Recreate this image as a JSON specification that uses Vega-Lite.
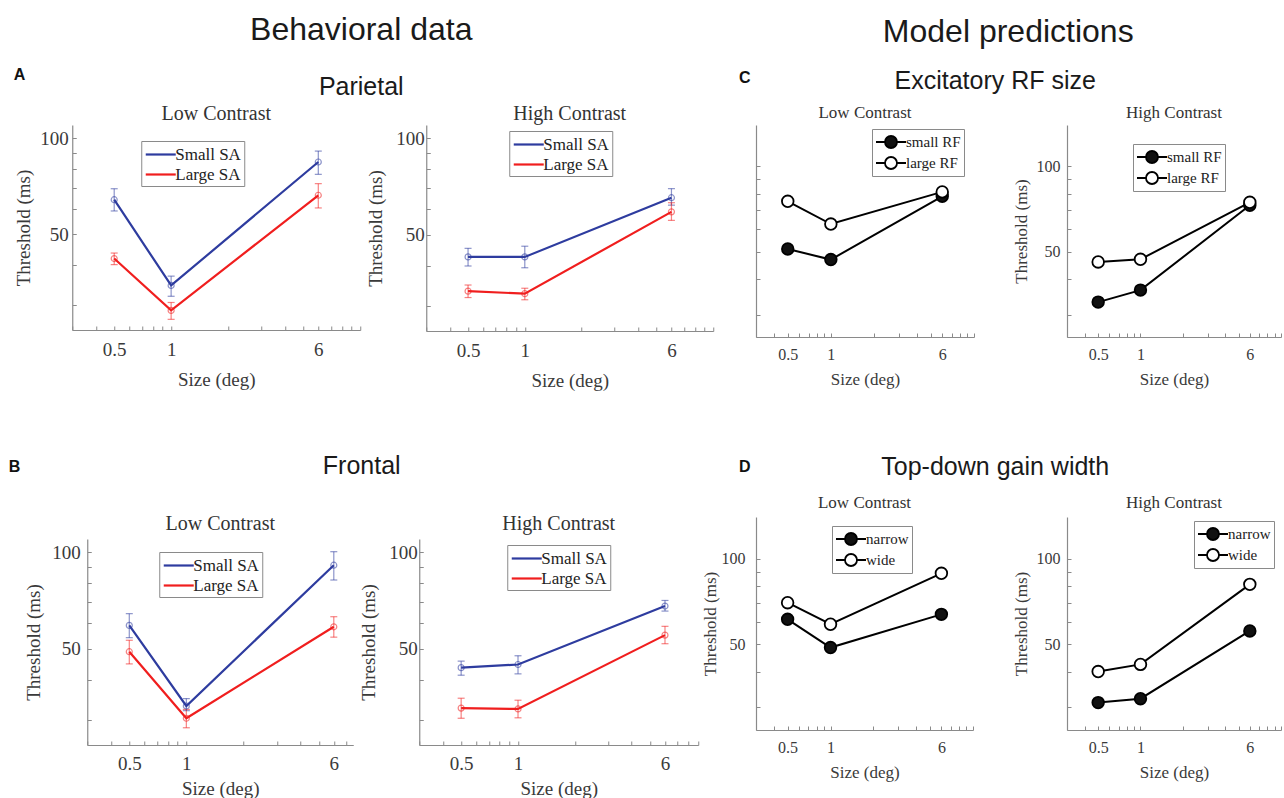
{
  "$schema": "https://vega.github.io/schema/vega-lite/v6.json",
  "padding": {"left": 8, "top": 14, "right": 0, "bottom": 0},
  "background": "white",
  "datasets": {
    "beh": [
      {"panel": "A_low", "series": "Small SA", "size": 0.5, "thr": 64.1, "lo": 59.1, "hi": 69.4},
      {"panel": "A_low", "series": "Small SA", "size": 1, "thr": 34.5, "lo": 31.9, "hi": 36.9},
      {"panel": "A_low", "series": "Small SA", "size": 6, "thr": 84.2, "lo": 77.0, "hi": 91.1},
      {"panel": "A_low", "series": "Large SA", "size": 0.5, "thr": 41.9, "lo": 40.1, "hi": 43.6},
      {"panel": "A_low", "series": "Large SA", "size": 1, "thr": 28.8, "lo": 27.0, "hi": 30.5},
      {"panel": "A_low", "series": "Large SA", "size": 6, "thr": 66.2, "lo": 60.4, "hi": 72.0},
      {"panel": "A_high", "series": "Small SA", "size": 0.5, "thr": 42.6, "lo": 39.9, "hi": 45.3},
      {"panel": "A_high", "series": "Small SA", "size": 1, "thr": 42.6, "lo": 39.4, "hi": 46.0},
      {"panel": "A_high", "series": "Small SA", "size": 6, "thr": 65.2, "lo": 61.8, "hi": 69.6},
      {"panel": "A_high", "series": "Large SA", "size": 0.5, "thr": 33.3, "lo": 31.8, "hi": 34.8},
      {"panel": "A_high", "series": "Large SA", "size": 1, "thr": 32.7, "lo": 31.3, "hi": 34.0},
      {"panel": "A_high", "series": "Large SA", "size": 6, "thr": 58.9, "lo": 55.4, "hi": 62.9},
      {"panel": "B_low", "series": "Small SA", "size": 0.5, "thr": 59.1, "lo": 54.1, "hi": 64.3},
      {"panel": "B_low", "series": "Small SA", "size": 1, "thr": 33.1, "lo": 32.0, "hi": 34.9},
      {"panel": "B_low", "series": "Small SA", "size": 6, "thr": 91.1, "lo": 81.9, "hi": 100.4},
      {"panel": "B_low", "series": "Large SA", "size": 0.5, "thr": 48.9, "lo": 44.8, "hi": 53.1},
      {"panel": "B_low", "series": "Large SA", "size": 1, "thr": 30.3, "lo": 28.3, "hi": 32.3},
      {"panel": "B_low", "series": "Large SA", "size": 6, "thr": 58.5, "lo": 54.3, "hi": 62.9},
      {"panel": "B_high", "series": "Small SA", "size": 0.5, "thr": 43.6, "lo": 41.3, "hi": 45.7},
      {"panel": "B_high", "series": "Small SA", "size": 1, "thr": 44.6, "lo": 41.7, "hi": 47.5},
      {"panel": "B_high", "series": "Small SA", "size": 6, "thr": 67.9, "lo": 65.5, "hi": 70.7},
      {"panel": "B_high", "series": "Large SA", "size": 0.5, "thr": 32.6, "lo": 30.3, "hi": 35.0},
      {"panel": "B_high", "series": "Large SA", "size": 1, "thr": 32.4, "lo": 30.4, "hi": 34.5},
      {"panel": "B_high", "series": "Large SA", "size": 6, "thr": 55.1, "lo": 51.8, "hi": 58.7}
    ],
    "mod": [
      {"panel": "C_low", "series": "small RF", "size": 0.5, "thr": 51.1},
      {"panel": "C_low", "series": "small RF", "size": 1, "thr": 46.9},
      {"panel": "C_low", "series": "small RF", "size": 6, "thr": 78.4},
      {"panel": "C_low", "series": "large RF", "size": 0.5, "thr": 75.3},
      {"panel": "C_low", "series": "large RF", "size": 1, "thr": 62.6},
      {"panel": "C_low", "series": "large RF", "size": 6, "thr": 81.3},
      {"panel": "C_high", "series": "small RF", "size": 0.5, "thr": 33.2},
      {"panel": "C_high", "series": "small RF", "size": 1, "thr": 36.6},
      {"panel": "C_high", "series": "small RF", "size": 6, "thr": 72.9},
      {"panel": "C_high", "series": "large RF", "size": 0.5, "thr": 46.0},
      {"panel": "C_high", "series": "large RF", "size": 1, "thr": 47.0},
      {"panel": "C_high", "series": "large RF", "size": 6, "thr": 74.7},
      {"panel": "D_low", "series": "narrow", "size": 0.5, "thr": 61.2},
      {"panel": "D_low", "series": "narrow", "size": 1, "thr": 48.7},
      {"panel": "D_low", "series": "narrow", "size": 6, "thr": 63.7},
      {"panel": "D_low", "series": "wide", "size": 0.5, "thr": 70.0},
      {"panel": "D_low", "series": "wide", "size": 1, "thr": 58.8},
      {"panel": "D_low", "series": "wide", "size": 6, "thr": 88.8},
      {"panel": "D_high", "series": "narrow", "size": 0.5, "thr": 31.2},
      {"panel": "D_high", "series": "narrow", "size": 1, "thr": 32.2},
      {"panel": "D_high", "series": "narrow", "size": 6, "thr": 55.7},
      {"panel": "D_high", "series": "wide", "size": 0.5, "thr": 40.1},
      {"panel": "D_high", "series": "wide", "size": 1, "thr": 42.5},
      {"panel": "D_high", "series": "wide", "size": 6, "thr": 81.2}
    ]
  },
  "config": {
    "view": {"stroke": null},
    "axis": {"domainColor": "#8a8a8a", "tickColor": "#8a8a8a", "labelColor": "#3a3a3a", "titleColor": "#3a3a3a", "labelFont": "Liberation Serif", "titleFont": "Liberation Serif", "titleFontWeight": "normal", "grid": false, "domainWidth": 1.2, "tickWidth": 1},
    "legend": {"labelFont": "Liberation Serif", "labelColor": "#222222", "strokeColor": "#8a8a8a", "fillColor": "white"}
  },
  "resolve": {"scale": {"color": "independent", "fill": "independent"}, "legend": {"color": "independent", "fill": "independent"}},
  "spacing": -13,
  "hconcat": [
    {
      "title": {"text": "Behavioral data", "font": "Liberation Sans", "fontSize": 32, "fontWeight": "normal", "color": "#1a1a1a", "anchor": "middle", "frame": "bounds", "offset": 20, "dx": 0},
      "spacing": 64,
      "center": true,
      "resolve": {"scale": {"color": "independent", "fill": "independent"}, "legend": {"color": "independent", "fill": "independent"}},
      "vconcat": [
        {
          "title": {"text": "A", "anchor": "start", "frame": "bounds", "font": "Liberation Sans", "fontSize": 16, "fontWeight": "bold", "color": "#111111", "dx": -1, "offset": -8},
          "resolve": {"scale": {"color": "independent", "fill": "independent"}, "legend": {"color": "independent", "fill": "independent"}},
          "vconcat": [
            {
              "title": {"text": "Parietal", "font": "Liberation Sans", "fontSize": 25, "fontWeight": "normal", "color": "#1a1a1a", "anchor": "middle", "frame": "bounds", "offset": 4, "dx": -3},
              "bounds": "flush",
              "spacing": 66,
              "resolve": {"scale": {"color": "independent", "fill": "independent"}, "legend": {"color": "independent", "fill": "independent"}},
              "hconcat": [
                {
                  "width": 288, "height": 205,
                  "title": {"text": "Low Contrast", "font": "Liberation Serif", "fontSize": 20, "fontWeight": "normal", "color": "#333333", "offset": 1},
                  "data": {"name": "beh"},
                  "transform": [{"filter": "datum.panel === 'A_low'"}],
                  "encoding": {
                    "x": {"field": "size", "type": "quantitative", "scale": {"type": "log", "domain": [0.3, 10], "nice": false},
                      "axis": {"title": "Size (deg)", "values": [0.3, 0.4, 0.5, 0.6, 0.7, 0.8, 0.9, 1, 2, 3, 4, 5, 6, 7, 8, 9, 10], "labelExpr": "datum.value == 0.5 ? '0.5' : datum.value == 1 ? '1' : datum.value == 6 ? '6' : ''", "tickSize": -4, "labelPadding": 14, "titlePadding": 11, "labelFontSize": 19, "titleFontSize": 19, "labelFlush": false}},
                    "color": {"field": "series", "type": "nominal", "scale": {"domain": ["Small SA", "Large SA"], "range": ["#2e3c9f", "#f01e1e"]},
                      "legend": {"orient": "none", "legendX": 69, "legendY": 16, "title": null, "symbolType": "M-1.667,0L1.667,0", "symbolSize": 324, "symbolStrokeWidth": 2.2, "symbolOpacity": 1, "symbolOffset": 6, "labelOffset": 4, "labelFontSize": 17, "padding": 3, "rowPadding": 1}}
                  },
                  "layer": [
                    {"mark": {"type": "errorbar", "ticks": {"size": 7}, "thickness": 1.2, "opacity": 0.55},
                      "encoding": {"y": {"field": "lo", "type": "quantitative", "scale": {"type": "log", "domain": [25, 110], "nice": false}, "axis": {"title": "Threshold (ms)", "values": [30, 40, 50, 60, 70, 80, 90, 100], "labelExpr": "datum.value == 50 ? '50' : datum.value == 100 ? '100' : ''", "tickSize": -4, "labelPadding": 8, "titlePadding": 6, "labelFontSize": 19, "titleFontSize": 19}}, "y2": {"field": "hi"}}},
                    {"mark": {"type": "line", "strokeWidth": 2.2},
                      "encoding": {"y": {"field": "thr", "type": "quantitative", "scale": {"type": "log", "domain": [25, 110], "nice": false}, "axis": {"title": "Threshold (ms)", "values": [30, 40, 50, 60, 70, 80, 90, 100], "labelExpr": "datum.value == 50 ? '50' : datum.value == 100 ? '100' : ''", "tickSize": -4, "labelPadding": 8, "titlePadding": 6, "labelFontSize": 19, "titleFontSize": 19}}}},
                    {"mark": {"type": "point", "shape": "circle", "filled": false, "size": 36, "strokeWidth": 1.2, "opacity": 0.55},
                      "encoding": {"y": {"field": "thr", "type": "quantitative", "scale": {"type": "log", "domain": [25, 110], "nice": false}, "axis": {"title": "Threshold (ms)", "values": [30, 40, 50, 60, 70, 80, 90, 100], "labelExpr": "datum.value == 50 ? '50' : datum.value == 100 ? '100' : ''", "tickSize": -4, "labelPadding": 8, "titlePadding": 6, "labelFontSize": 19, "titleFontSize": 19}}}}
                  ]
                },
                {
                  "width": 287, "height": 206,
                  "title": {"text": "High Contrast", "font": "Liberation Serif", "fontSize": 20, "fontWeight": "normal", "color": "#333333", "offset": 1},
                  "data": {"name": "beh"},
                  "transform": [{"filter": "datum.panel === 'A_high'"}],
                  "encoding": {
                    "x": {"field": "size", "type": "quantitative", "scale": {"type": "log", "domain": [0.3, 10], "nice": false},
                      "axis": {"title": "Size (deg)", "values": [0.3, 0.4, 0.5, 0.6, 0.7, 0.8, 0.9, 1, 2, 3, 4, 5, 6, 7, 8, 9, 10], "labelExpr": "datum.value == 0.5 ? '0.5' : datum.value == 1 ? '1' : datum.value == 6 ? '6' : ''", "tickSize": -4, "labelPadding": 14, "titlePadding": 11, "labelFontSize": 19, "titleFontSize": 19, "labelFlush": false}},
                    "color": {"field": "series", "type": "nominal", "scale": {"domain": ["Small SA", "Large SA"], "range": ["#2e3c9f", "#f01e1e"]},
                      "legend": {"orient": "none", "legendX": 83, "legendY": 6, "title": null, "symbolType": "M-1.667,0L1.667,0", "symbolSize": 324, "symbolStrokeWidth": 2.2, "symbolOpacity": 1, "symbolOffset": 6, "labelOffset": 4, "labelFontSize": 17, "padding": 3, "rowPadding": 1}}
                  },
                  "layer": [
                    {"mark": {"type": "errorbar", "ticks": {"size": 7}, "thickness": 1.2, "opacity": 0.55},
                      "encoding": {"y": {"field": "lo", "type": "quantitative", "scale": {"type": "log", "domain": [25, 110], "nice": false}, "axis": {"title": "Threshold (ms)", "values": [30, 40, 50, 60, 70, 80, 90, 100], "labelExpr": "datum.value == 50 ? '50' : datum.value == 100 ? '100' : ''", "tickSize": -4, "labelPadding": 6, "titlePadding": 10, "labelFontSize": 19, "titleFontSize": 19}}, "y2": {"field": "hi"}}},
                    {"mark": {"type": "line", "strokeWidth": 2.2},
                      "encoding": {"y": {"field": "thr", "type": "quantitative", "scale": {"type": "log", "domain": [25, 110], "nice": false}, "axis": {"title": "Threshold (ms)", "values": [30, 40, 50, 60, 70, 80, 90, 100], "labelExpr": "datum.value == 50 ? '50' : datum.value == 100 ? '100' : ''", "tickSize": -4, "labelPadding": 6, "titlePadding": 10, "labelFontSize": 19, "titleFontSize": 19}}}},
                    {"mark": {"type": "point", "shape": "circle", "filled": false, "size": 36, "strokeWidth": 1.2, "opacity": 0.55},
                      "encoding": {"y": {"field": "thr", "type": "quantitative", "scale": {"type": "log", "domain": [25, 110], "nice": false}, "axis": {"title": "Threshold (ms)", "values": [30, 40, 50, 60, 70, 80, 90, 100], "labelExpr": "datum.value == 50 ? '50' : datum.value == 100 ? '100' : ''", "tickSize": -4, "labelPadding": 6, "titlePadding": 10, "labelFontSize": 19, "titleFontSize": 19}}}}
                  ]
                }
              ]
            }
          ]
        },
        {
          "title": {"text": "B", "anchor": "start", "frame": "bounds", "font": "Liberation Sans", "fontSize": 16, "fontWeight": "bold", "color": "#111111", "dx": -16, "offset": -21},
          "resolve": {"scale": {"color": "independent", "fill": "independent"}, "legend": {"color": "independent", "fill": "independent"}},
          "vconcat": [
            {
              "title": {"text": "Frontal", "font": "Liberation Sans", "fontSize": 25, "fontWeight": "normal", "color": "#1a1a1a", "anchor": "middle", "frame": "bounds", "offset": 35},
              "bounds": "flush",
              "spacing": 66,
              "resolve": {"scale": {"color": "independent", "fill": "independent"}, "legend": {"color": "independent", "fill": "independent"}},
              "hconcat": [
                {
                  "width": 266, "height": 206,
                  "title": {"text": "Low Contrast", "font": "Liberation Serif", "fontSize": 20, "fontWeight": "normal", "color": "#333333", "offset": 5},
                  "data": {"name": "beh"},
                  "transform": [{"filter": "datum.panel === 'B_low'"}],
                  "encoding": {
                    "x": {"field": "size", "type": "quantitative", "scale": {"type": "log", "domain": [0.3, 7.6], "nice": false},
                      "axis": {"title": "Size (deg)", "values": [0.3, 0.4, 0.5, 0.6, 0.7, 0.8, 0.9, 1, 2, 3, 4, 5, 6, 7], "labelExpr": "datum.value == 0.5 ? '0.5' : datum.value == 1 ? '1' : datum.value == 6 ? '6' : ''", "tickSize": -4, "labelPadding": 13, "titlePadding": 6, "labelFontSize": 19, "titleFontSize": 19, "labelFlush": false}},
                    "color": {"field": "series", "type": "nominal", "scale": {"domain": ["Small SA", "Large SA"], "range": ["#2e3c9f", "#f01e1e"]},
                      "legend": {"orient": "none", "legendX": 72, "legendY": 13, "title": null, "symbolType": "M-1.667,0L1.667,0", "symbolSize": 324, "symbolStrokeWidth": 2.2, "symbolOpacity": 1, "symbolOffset": 6, "labelOffset": 4, "labelFontSize": 17, "padding": 3, "rowPadding": 1}}
                  },
                  "layer": [
                    {"mark": {"type": "errorbar", "ticks": {"size": 7}, "thickness": 1.2, "opacity": 0.55},
                      "encoding": {"y": {"field": "lo", "type": "quantitative", "scale": {"type": "log", "domain": [25, 110], "nice": false}, "axis": {"title": "Threshold (ms)", "values": [30, 40, 50, 60, 70, 80, 90, 100], "labelExpr": "datum.value == 50 ? '50' : datum.value == 100 ? '100' : ''", "tickSize": -4, "labelPadding": 11, "titlePadding": 8, "labelFontSize": 19, "titleFontSize": 19}}, "y2": {"field": "hi"}}},
                    {"mark": {"type": "line", "strokeWidth": 2.2},
                      "encoding": {"y": {"field": "thr", "type": "quantitative", "scale": {"type": "log", "domain": [25, 110], "nice": false}, "axis": {"title": "Threshold (ms)", "values": [30, 40, 50, 60, 70, 80, 90, 100], "labelExpr": "datum.value == 50 ? '50' : datum.value == 100 ? '100' : ''", "tickSize": -4, "labelPadding": 11, "titlePadding": 8, "labelFontSize": 19, "titleFontSize": 19}}}},
                    {"mark": {"type": "point", "shape": "circle", "filled": false, "size": 36, "strokeWidth": 1.2, "opacity": 0.55},
                      "encoding": {"y": {"field": "thr", "type": "quantitative", "scale": {"type": "log", "domain": [25, 110], "nice": false}, "axis": {"title": "Threshold (ms)", "values": [30, 40, 50, 60, 70, 80, 90, 100], "labelExpr": "datum.value == 50 ? '50' : datum.value == 100 ? '100' : ''", "tickSize": -4, "labelPadding": 11, "titlePadding": 8, "labelFontSize": 19, "titleFontSize": 19}}}}
                  ]
                },
                {
                  "width": 279, "height": 206,
                  "title": {"text": "High Contrast", "font": "Liberation Serif", "fontSize": 20, "fontWeight": "normal", "color": "#333333", "offset": 5},
                  "data": {"name": "beh"},
                  "transform": [{"filter": "datum.panel === 'B_high'"}],
                  "encoding": {
                    "x": {"field": "size", "type": "quantitative", "scale": {"type": "log", "domain": [0.3, 9], "nice": false},
                      "axis": {"title": "Size (deg)", "values": [0.3, 0.4, 0.5, 0.6, 0.7, 0.8, 0.9, 1, 2, 3, 4, 5, 6, 7, 8, 9], "labelExpr": "datum.value == 0.5 ? '0.5' : datum.value == 1 ? '1' : datum.value == 6 ? '6' : ''", "tickSize": -4, "labelPadding": 13, "titlePadding": 6, "labelFontSize": 19, "titleFontSize": 19, "labelFlush": false}},
                    "color": {"field": "series", "type": "nominal", "scale": {"domain": ["Small SA", "Large SA"], "range": ["#2e3c9f", "#f01e1e"]},
                      "legend": {"orient": "none", "legendX": 88, "legendY": 6, "title": null, "symbolType": "M-1.667,0L1.667,0", "symbolSize": 324, "symbolStrokeWidth": 2.2, "symbolOpacity": 1, "symbolOffset": 6, "labelOffset": 4, "labelFontSize": 17, "padding": 3, "rowPadding": 1}}
                  },
                  "layer": [
                    {"mark": {"type": "errorbar", "ticks": {"size": 7}, "thickness": 1.2, "opacity": 0.55},
                      "encoding": {"y": {"field": "lo", "type": "quantitative", "scale": {"type": "log", "domain": [25, 110], "nice": false}, "axis": {"title": "Threshold (ms)", "values": [30, 40, 50, 60, 70, 80, 90, 100], "labelExpr": "datum.value == 50 ? '50' : datum.value == 100 ? '100' : ''", "tickSize": -4, "labelPadding": 6, "titlePadding": 10, "labelFontSize": 19, "titleFontSize": 19}}, "y2": {"field": "hi"}}},
                    {"mark": {"type": "line", "strokeWidth": 2.2},
                      "encoding": {"y": {"field": "thr", "type": "quantitative", "scale": {"type": "log", "domain": [25, 110], "nice": false}, "axis": {"title": "Threshold (ms)", "values": [30, 40, 50, 60, 70, 80, 90, 100], "labelExpr": "datum.value == 50 ? '50' : datum.value == 100 ? '100' : ''", "tickSize": -4, "labelPadding": 6, "titlePadding": 10, "labelFontSize": 19, "titleFontSize": 19}}}},
                    {"mark": {"type": "point", "shape": "circle", "filled": false, "size": 36, "strokeWidth": 1.2, "opacity": 0.55},
                      "encoding": {"y": {"field": "thr", "type": "quantitative", "scale": {"type": "log", "domain": [25, 110], "nice": false}, "axis": {"title": "Threshold (ms)", "values": [30, 40, 50, 60, 70, 80, 90, 100], "labelExpr": "datum.value == 50 ? '50' : datum.value == 100 ? '100' : ''", "tickSize": -4, "labelPadding": 6, "titlePadding": 10, "labelFontSize": 19, "titleFontSize": 19}}}}
                  ]
                }
              ]
            }
          ]
        }
      ]
    },
    {
      "title": {"text": "Model predictions", "font": "Liberation Sans", "fontSize": 32, "fontWeight": "normal", "color": "#1a1a1a", "anchor": "middle", "frame": "bounds", "offset": 20, "dx": 17},
      "spacing": 68,
      "resolve": {"scale": {"color": "independent", "fill": "independent"}, "legend": {"color": "independent", "fill": "independent"}},
      "vconcat": [
        {
          "title": {"text": "C", "anchor": "start", "frame": "bounds", "font": "Liberation Sans", "fontSize": 16, "fontWeight": "bold", "color": "#111111", "dx": 38, "offset": -17},
          "resolve": {"scale": {"color": "independent", "fill": "independent"}, "legend": {"color": "independent", "fill": "independent"}},
          "vconcat": [
            {
              "title": {"text": "Excitatory RF size", "font": "Liberation Sans", "fontSize": 25, "fontWeight": "normal", "color": "#1a1a1a", "anchor": "middle", "frame": "bounds", "offset": 10, "dx": 4},
              "bounds": "flush",
              "spacing": 93,
              "resolve": {"scale": {"color": "independent", "fill": "independent"}, "legend": {"color": "independent", "fill": "independent"}},
              "hconcat": [
                {
                  "width": 218, "height": 212,
                  "title": {"text": "Low Contrast", "font": "Liberation Serif", "fontSize": 17, "fontWeight": "normal", "color": "#333333", "offset": 3},
                  "data": {"name": "mod"},
                  "transform": [{"filter": "datum.panel === 'C_low'"}],
                  "encoding": {
                    "x": {"field": "size", "type": "quantitative", "scale": {"type": "log", "domain": [0.3, 10], "nice": false},
                      "axis": {"title": "Size (deg)", "values": [0.3, 0.4, 0.5, 0.6, 0.7, 0.8, 0.9, 1, 2, 3, 4, 5, 6, 7, 8, 9, 10], "labelExpr": "datum.value == 0.5 ? '0.5' : datum.value == 1 ? '1' : datum.value == 6 ? '6' : ''", "tickSize": -4, "labelPadding": 13, "titlePadding": 9, "labelFontSize": 16, "titleFontSize": 17, "labelFlush": false}},
                    "y": {"field": "thr", "type": "quantitative", "scale": {"type": "log", "domain": [25, 140], "nice": false},
                      "axis": {"title": " ", "labels": false, "values": [30, 40, 50, 60, 70, 80, 90, 100], "tickSize": -4, "minExtent": 35, "maxExtent": 35, "titlePadding": 2, "titleFontSize": 17}}
                  },
                  "layer": [
                    {"mark": {"type": "line", "stroke": "black", "strokeWidth": 2}, "encoding": {"detail": {"field": "series"}}},
                    {"mark": {"type": "point", "shape": "circle", "filled": true, "size": 135, "stroke": "black", "strokeWidth": 1.8, "opacity": 1},
                      "encoding": {"fill": {"field": "series", "type": "nominal", "scale": {"domain": ["small RF", "large RF"], "range": ["#111111", "white"]},
                        "legend": {"orient": "none", "legendX": 116, "legendY": 4, "title": null, "symbolType": "M-1.667,0L-0.667,0M0.667,0L1.667,0M-0.667,0A0.667,0.667,0,1,0,0.667,0A0.667,0.667,0,1,0,-0.667,0Z", "symbolSize": 324, "symbolStrokeColor": "black", "symbolStrokeWidth": 1.8, "symbolOffset": 6, "labelOffset": 5, "labelFontSize": 15, "padding": 3, "rowPadding": 1}}}}
                  ]
                },
                {
                  "width": 214, "height": 212,
                  "title": {"text": "High Contrast", "font": "Liberation Serif", "fontSize": 17, "fontWeight": "normal", "color": "#333333", "offset": 3},
                  "data": {"name": "mod"},
                  "transform": [{"filter": "datum.panel === 'C_high'"}],
                  "encoding": {
                    "x": {"field": "size", "type": "quantitative", "scale": {"type": "log", "domain": [0.3, 10], "nice": false},
                      "axis": {"title": "Size (deg)", "values": [0.3, 0.4, 0.5, 0.6, 0.7, 0.8, 0.9, 1, 2, 3, 4, 5, 6, 7, 8, 9, 10], "labelExpr": "datum.value == 0.5 ? '0.5' : datum.value == 1 ? '1' : datum.value == 6 ? '6' : ''", "tickSize": -4, "labelPadding": 13, "titlePadding": 9, "labelFontSize": 16, "titleFontSize": 17, "labelFlush": false}},
                    "y": {"field": "thr", "type": "quantitative", "scale": {"type": "log", "domain": [25, 140], "nice": false},
                      "axis": {"title": "Threshold (ms)", "values": [30, 40, 50, 60, 70, 80, 90, 100], "labelExpr": "datum.value == 50 ? '50' : datum.value == 100 ? '100' : ''", "tickSize": -4, "labelPadding": 11, "titlePadding": 6, "labelFontSize": 16, "titleFontSize": 17}}
                  },
                  "layer": [
                    {"mark": {"type": "line", "stroke": "black", "strokeWidth": 2}, "encoding": {"detail": {"field": "series"}}},
                    {"mark": {"type": "point", "shape": "circle", "filled": true, "size": 135, "stroke": "black", "strokeWidth": 1.8, "opacity": 1},
                      "encoding": {"fill": {"field": "series", "type": "nominal", "scale": {"domain": ["small RF", "large RF"], "range": ["#111111", "white"]},
                        "legend": {"orient": "none", "legendX": 66, "legendY": 19, "title": null, "symbolType": "M-1.667,0L-0.667,0M0.667,0L1.667,0M-0.667,0A0.667,0.667,0,1,0,0.667,0A0.667,0.667,0,1,0,-0.667,0Z", "symbolSize": 324, "symbolStrokeColor": "black", "symbolStrokeWidth": 1.8, "symbolOffset": 6, "labelOffset": 5, "labelFontSize": 15, "padding": 3, "rowPadding": 1}}}}
                  ]
                }
              ]
            }
          ]
        },
        {
          "title": {"text": "D", "anchor": "start", "frame": "bounds", "font": "Liberation Sans", "fontSize": 16, "fontWeight": "bold", "color": "#111111", "dx": 38, "offset": -20},
          "resolve": {"scale": {"color": "independent", "fill": "independent"}, "legend": {"color": "independent", "fill": "independent"}},
          "vconcat": [
            {
              "title": {"text": "Top-down gain width", "font": "Liberation Sans", "fontSize": 25, "fontWeight": "normal", "color": "#1a1a1a", "anchor": "middle", "frame": "bounds", "offset": 14, "dx": 4},
              "bounds": "flush",
              "spacing": 94,
              "resolve": {"scale": {"color": "independent", "fill": "independent"}, "legend": {"color": "independent", "fill": "independent"}},
              "hconcat": [
                {
                  "width": 217, "height": 213,
                  "title": {"text": "Low Contrast", "font": "Liberation Serif", "fontSize": 17, "fontWeight": "normal", "color": "#333333", "offset": 5},
                  "data": {"name": "mod"},
                  "transform": [{"filter": "datum.panel === 'D_low'"}],
                  "encoding": {
                    "x": {"field": "size", "type": "quantitative", "scale": {"type": "log", "domain": [0.3, 10], "nice": false},
                      "axis": {"title": "Size (deg)", "values": [0.3, 0.4, 0.5, 0.6, 0.7, 0.8, 0.9, 1, 2, 3, 4, 5, 6, 7, 8, 9, 10], "labelExpr": "datum.value == 0.5 ? '0.5' : datum.value == 1 ? '1' : datum.value == 6 ? '6' : ''", "tickSize": -4, "labelPadding": 13, "titlePadding": 9, "labelFontSize": 16, "titleFontSize": 17, "labelFlush": false}},
                    "y": {"field": "thr", "type": "quantitative", "scale": {"type": "log", "domain": [25, 140], "nice": false},
                      "axis": {"title": "Threshold (ms)", "values": [30, 40, 50, 60, 70, 80, 90, 100], "labelExpr": "datum.value == 50 ? '50' : datum.value == 100 ? '100' : ''", "tickSize": -4, "labelPadding": 15, "minExtent": 35, "maxExtent": 35, "titlePadding": 2, "labelFontSize": 16, "titleFontSize": 17}}
                  },
                  "layer": [
                    {"mark": {"type": "line", "stroke": "black", "strokeWidth": 2}, "encoding": {"detail": {"field": "series"}}},
                    {"mark": {"type": "point", "shape": "circle", "filled": true, "size": 135, "stroke": "black", "strokeWidth": 1.8, "opacity": 1},
                      "encoding": {"fill": {"field": "series", "type": "nominal", "scale": {"domain": ["narrow", "wide"], "range": ["#111111", "white"]},
                        "legend": {"orient": "none", "legendX": 76, "legendY": 9, "title": null, "symbolType": "M-1.667,0L-0.667,0M0.667,0L1.667,0M-0.667,0A0.667,0.667,0,1,0,0.667,0A0.667,0.667,0,1,0,-0.667,0Z", "symbolSize": 324, "symbolStrokeColor": "black", "symbolStrokeWidth": 1.8, "symbolOffset": 6, "labelOffset": 5, "labelFontSize": 15, "padding": 3, "rowPadding": 1}}}}
                  ]
                },
                {
                  "width": 214, "height": 213,
                  "title": {"text": "High Contrast", "font": "Liberation Serif", "fontSize": 17, "fontWeight": "normal", "color": "#333333", "offset": 5},
                  "data": {"name": "mod"},
                  "transform": [{"filter": "datum.panel === 'D_high'"}],
                  "encoding": {
                    "x": {"field": "size", "type": "quantitative", "scale": {"type": "log", "domain": [0.3, 10], "nice": false},
                      "axis": {"title": "Size (deg)", "values": [0.3, 0.4, 0.5, 0.6, 0.7, 0.8, 0.9, 1, 2, 3, 4, 5, 6, 7, 8, 9, 10], "labelExpr": "datum.value == 0.5 ? '0.5' : datum.value == 1 ? '1' : datum.value == 6 ? '6' : ''", "tickSize": -4, "labelPadding": 13, "titlePadding": 9, "labelFontSize": 16, "titleFontSize": 17, "labelFlush": false}},
                    "y": {"field": "thr", "type": "quantitative", "scale": {"type": "log", "domain": [25, 140], "nice": false},
                      "axis": {"title": "Threshold (ms)", "values": [30, 40, 50, 60, 70, 80, 90, 100], "labelExpr": "datum.value == 50 ? '50' : datum.value == 100 ? '100' : ''", "tickSize": -4, "labelPadding": 11, "titlePadding": 6, "labelFontSize": 16, "titleFontSize": 17}}
                  },
                  "layer": [
                    {"mark": {"type": "line", "stroke": "black", "strokeWidth": 2}, "encoding": {"detail": {"field": "series"}}},
                    {"mark": {"type": "point", "shape": "circle", "filled": true, "size": 135, "stroke": "black", "strokeWidth": 1.8, "opacity": 1},
                      "encoding": {"fill": {"field": "series", "type": "nominal", "scale": {"domain": ["narrow", "wide"], "range": ["#111111", "white"]},
                        "legend": {"orient": "none", "legendX": 127, "legendY": 4, "title": null, "symbolType": "M-1.667,0L-0.667,0M0.667,0L1.667,0M-0.667,0A0.667,0.667,0,1,0,0.667,0A0.667,0.667,0,1,0,-0.667,0Z", "symbolSize": 324, "symbolStrokeColor": "black", "symbolStrokeWidth": 1.8, "symbolOffset": 6, "labelOffset": 5, "labelFontSize": 15, "padding": 3, "rowPadding": 1}}}}
                  ]
                }
              ]
            }
          ]
        }
      ]
    }
  ]
}
